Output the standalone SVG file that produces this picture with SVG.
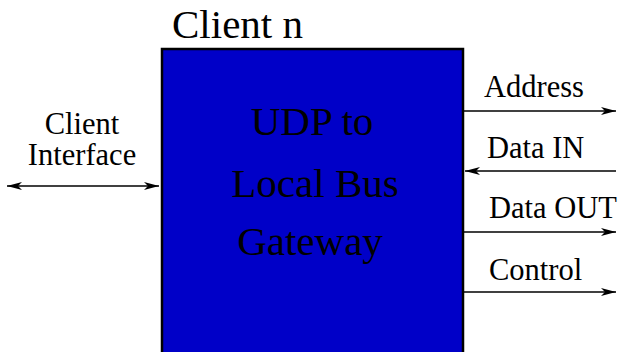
<svg xmlns="http://www.w3.org/2000/svg" width="625" height="352" viewBox="0 0 625 352">
<style>
text{font-family:"Liberation Serif","Times New Roman",serif;fill:#000}
.lbl{font-size:30.5px}
.big{font-size:41px}
.c{stroke:#000;stroke-width:1.4;fill:none}
</style>
<defs>
<marker id="ah" viewBox="0 0 15 8" refX="15" refY="4" markerWidth="15" markerHeight="8" markerUnits="userSpaceOnUse" orient="auto-start-reverse">
<path d="M0,0 L15,4 L0,8 L4,4 Z" fill="#000"/>
</marker>
</defs>
<rect width="625" height="352" fill="#fff"/>
<g id="gateway">
<rect x="162" y="49" width="301" height="320" fill="#0000c8" stroke="#000" stroke-width="2.5"/>
<text class="big" x="172" y="38">Client n</text>
<text class="big" x="312" y="135" text-anchor="middle">UDP to</text>
<text class="big" x="315" y="197" text-anchor="middle">Local Bus</text>
<text class="big" x="310" y="255" text-anchor="middle">Gateway</text>
</g>
<g id="labels">
<text class="lbl" x="82" y="134" text-anchor="middle">Client</text>
<text class="lbl" x="82" y="165" text-anchor="middle">Interface</text>
<text class="lbl" x="484" y="97">Address</text>
<text class="lbl" x="487" y="158">Data IN</text>
<text class="lbl" x="489" y="218">Data OUT</text>
<text class="lbl" x="489" y="280">Control</text>
</g>
<g id="connectors">
<line class="c" x1="7" y1="186" x2="159" y2="186" marker-start="url(#ah)" marker-end="url(#ah)"/>
<line class="c" x1="464" y1="111" x2="616" y2="111" marker-end="url(#ah)"/>
<line class="c" x1="616" y1="171" x2="465" y2="171" marker-end="url(#ah)"/>
<line class="c" x1="464" y1="232" x2="616" y2="232" marker-end="url(#ah)"/>
<line class="c" x1="464" y1="292" x2="616" y2="292" marker-end="url(#ah)"/>
</g>
</svg>
